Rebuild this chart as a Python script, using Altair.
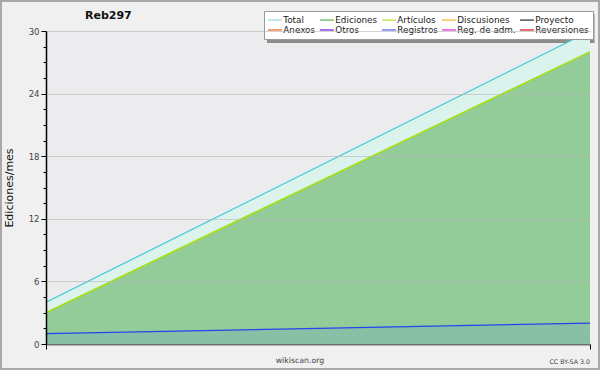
import altair as alt
import pandas as pd

# ---- data ----
x_index = [0, 1]
total = [4, 30]
ediciones = [3, 28]
articulos = [3, 28]
registros = [1, 2]

legend_series = ["Total", "Ediciones", "Artículos", "Discusiones", "Proyecto",
                 "Anexos", "Otros", "Registros", "Reg. de adm.", "Reversiones"]
legend_colors = ["#a8e4e0", "#74c47c", "#c4e850", "#f4c850", "#555555",
                 "#f08048", "#8844e0", "#7080f0", "#e050e0", "#e03c3c"]

major_ticks = [0, 6, 12, 18, 24, 30]
minor_ticks = [1.5, 3, 4.5, 7.5, 9, 10.5, 13.5, 15, 16.5, 19.5, 21, 22.5, 25.5, 27, 28.5]

FONT = "DejaVu Sans"

df = pd.DataFrame({"x": x_index, "total": total, "ediciones": ediciones,
                   "articulos": articulos, "registros": registros})
leg_df = pd.DataFrame({"serie": legend_series, "v": [None] * len(legend_series)})
deco_df = pd.DataFrame({"d": [0]})

W, H = 544, 313

xscale = alt.Scale(domain=[0, 1], nice=False, zero=False)
yscale = alt.Scale(domain=[0, 30], nice=False)
xaxis = alt.Axis(values=[0, 1], labels=False, title=None, tickSize=5, grid=False,
                 domainColor="black", tickColor="black", domainWidth=1.5)
X = alt.X("x:Q", scale=xscale, axis=xaxis)

base = alt.Chart(df)

total_area = base.mark_area(color="#dbf2ed").encode(
    x=X,
    y=alt.Y("total:Q", scale=yscale, axis=alt.Axis(
        values=major_ticks, tickSize=5, title="Ediciones/mes", titleFont=FONT,
        titleFontSize=11, titleFontWeight="normal", titleColor="#111",
        titlePadding=14, labelFont=FONT, labelFontSize=8.5, labelColor="#444",
        labelPadding=2, grid=True, gridColor="#b8b8b8", gridOpacity=0.6,
        domainColor="black", tickColor="black", domainWidth=1.5, zindex=1)))
edits_area = base.mark_area(color="#93cc98").encode(
    x=X, y=alt.Y("ediciones:Q", scale=yscale, axis=None))
reg_area = base.mark_area(color="#88c0a6").encode(
    x=X, y=alt.Y("registros:Q", scale=yscale, axis=None))
total_line = base.mark_line(color="#3ccccc", strokeWidth=1.2).encode(
    x=X, y=alt.Y("total:Q", scale=yscale, axis=None))
art_line = base.mark_line(color="#a4e010", strokeWidth=1.6).encode(
    x=X, y=alt.Y("articulos:Q", scale=yscale, axis=None))
reg_line = base.mark_line(color="#2244f0", strokeWidth=1.3).encode(
    x=X, y=alt.Y("registros:Q", scale=yscale, axis=None))

minor = base.mark_point(opacity=0).encode(
    x=X,
    y=alt.Y("registros:Q", scale=yscale, axis=alt.Axis(
        orient="left", values=minor_ticks, labels=False, title=None, grid=False,
        domain=False, tickSize=3, tickColor="black")))

legend_layer = alt.Chart(leg_df).mark_line().encode(
    y=alt.Y("v:Q", scale=yscale, axis=None),
    color=alt.Color("serie:N",
                    scale=alt.Scale(domain=legend_series, range=legend_colors),
                    legend=alt.Legend(
                        orient="none", legendX=218, legendY=-20, columns=5,
                        direction="horizontal", title=None,
                        symbolType="M-1.2,0H2.1",
                        symbolSize=72, symbolStrokeWidth=1.5, labelFont=FONT,
                        labelFontSize=8.8, labelColor="#222", labelOffset=5.3,
                        columnPadding=0, rowPadding=0, padding=4,
                        fillColor="white", strokeColor="#999", labelLimit=0)))

deco = alt.Chart(deco_df)
border = deco.mark_rect(fill=None, stroke="#a8a8a8", strokeWidth=2).encode(
    x=alt.value(-45), x2=alt.value(553), y=alt.value(-30), y2=alt.value(338))
shadow = deco.mark_rect(fill="#8c8c8c").encode(
    x=alt.value(221), x2=alt.value(548.5), y=alt.value(-17), y2=alt.value(12))
title = deco.mark_text(text="Reb297", font=FONT, fontSize=11, fontWeight="bold",
                       align="left", baseline="middle", color="#111").encode(
    x=alt.value(39), y=alt.value(-15))
footer = deco.mark_text(text="wikiscan.org", font=FONT, fontSize=7.8, align="center",
                        baseline="middle", color="#444").encode(
    x=alt.value(254), y=alt.value(330))
cc = deco.mark_text(text="CC BY-SA 3.0", font=FONT, fontSize=6.3, align="right",
                    baseline="middle", color="#444").encode(
    x=alt.value(544), y=alt.value(331))

chart = alt.layer(
    border, shadow, total_area, edits_area, reg_area, total_line, art_line,
    reg_line, minor, legend_layer, title, footer, cc
).resolve_axis(y="independent").properties(
    width=W, height=H,
    autosize=alt.AutoSizeParams(type="none"),
    padding={"left": 46, "top": 31, "right": 10, "bottom": 26},
    background="#f0f0f0",
).configure_view(fill="#ececee", stroke=None)

chart.save("out.html", embed_options={"renderer": "svg", "actions": False})
